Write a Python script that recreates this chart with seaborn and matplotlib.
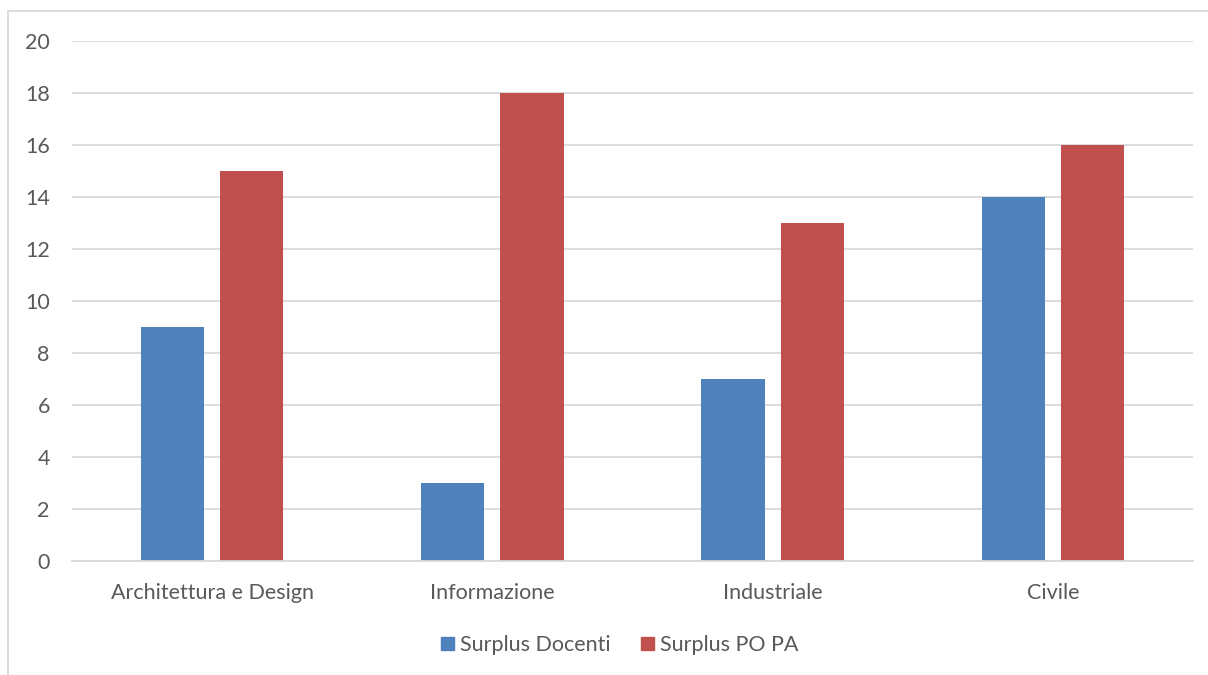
import matplotlib
matplotlib.use("Agg")
import matplotlib.pyplot as plt
from matplotlib.lines import Line2D
import seaborn as sns
import pandas as pd

categories = ["Architettura e Design", "Informazione", "Industriale", "Civile"]
series_names = ["Surplus Docenti", "Surplus PO PA"]
surplus_docenti = [9, 3, 7, 14]
surplus_po_pa = [15, 18, 13, 16]
colors = ["#4F81BD", "#C0504D"]

df = pd.DataFrame({
    "categoria": categories * 2,
    "serie": [series_names[0]] * 4 + [series_names[1]] * 4,
    "valore": surplus_docenti + surplus_po_pa,
})

sns.set_style("white")
plt.rcParams["font.family"] = ["Lato", "DejaVu Sans"]

fig = plt.figure(figsize=(12.08, 6.75), dpi=100)
ax = fig.add_axes([72/1208, 1-561/675, (1193-72)/1208, (561-41)/675])

sns.barplot(data=df, x="categoria", y="valore", hue="serie", palette=colors,
            width=0.564, gap=0.2, ax=ax, saturation=1, legend=False, linewidth=0)

ax.set_xlim(-0.5, 3.5)
ax.set_ylim(0, 20)
ax.set_yticks(range(0, 21, 2))
ax.yaxis.grid(True, color="#D9D9D9", linewidth=1.3)
ax.set_axisbelow(True)
for s in ["top", "right", "left"]:
    ax.spines[s].set_visible(False)
ax.spines["bottom"].set_color("#D9D9D9")
ax.spines["bottom"].set_linewidth(1.3)
ax.tick_params(axis="both", length=0, labelsize=15.5, labelcolor="#595959")
ax.tick_params(axis="y", pad=16)
ax.tick_params(axis="x", pad=16)
ax.set_xlabel("")
ax.set_ylabel("")

handles = [plt.Rectangle((0, 0), 1, 1, color=c) for c in colors]
fig.legend(handles, series_names, loc="center", bbox_to_anchor=(0.513, 1-645/675),
           ncol=2, frameon=False, fontsize=15.5, labelcolor="#595959",
           handlelength=0.6, handleheight=0.6, handletextpad=0.25, columnspacing=1.45)

# outer chart frame
fig.add_artist(Line2D([8/1208, 1.0], [1-11/675, 1-11/675], color="#D9D9D9", linewidth=1.3,
                      transform=fig.transFigure))
fig.add_artist(Line2D([8/1208, 8/1208], [0, 1-11/675], color="#D9D9D9", linewidth=1.3,
                      transform=fig.transFigure))

fig.savefig("out.png", dpi=100)
